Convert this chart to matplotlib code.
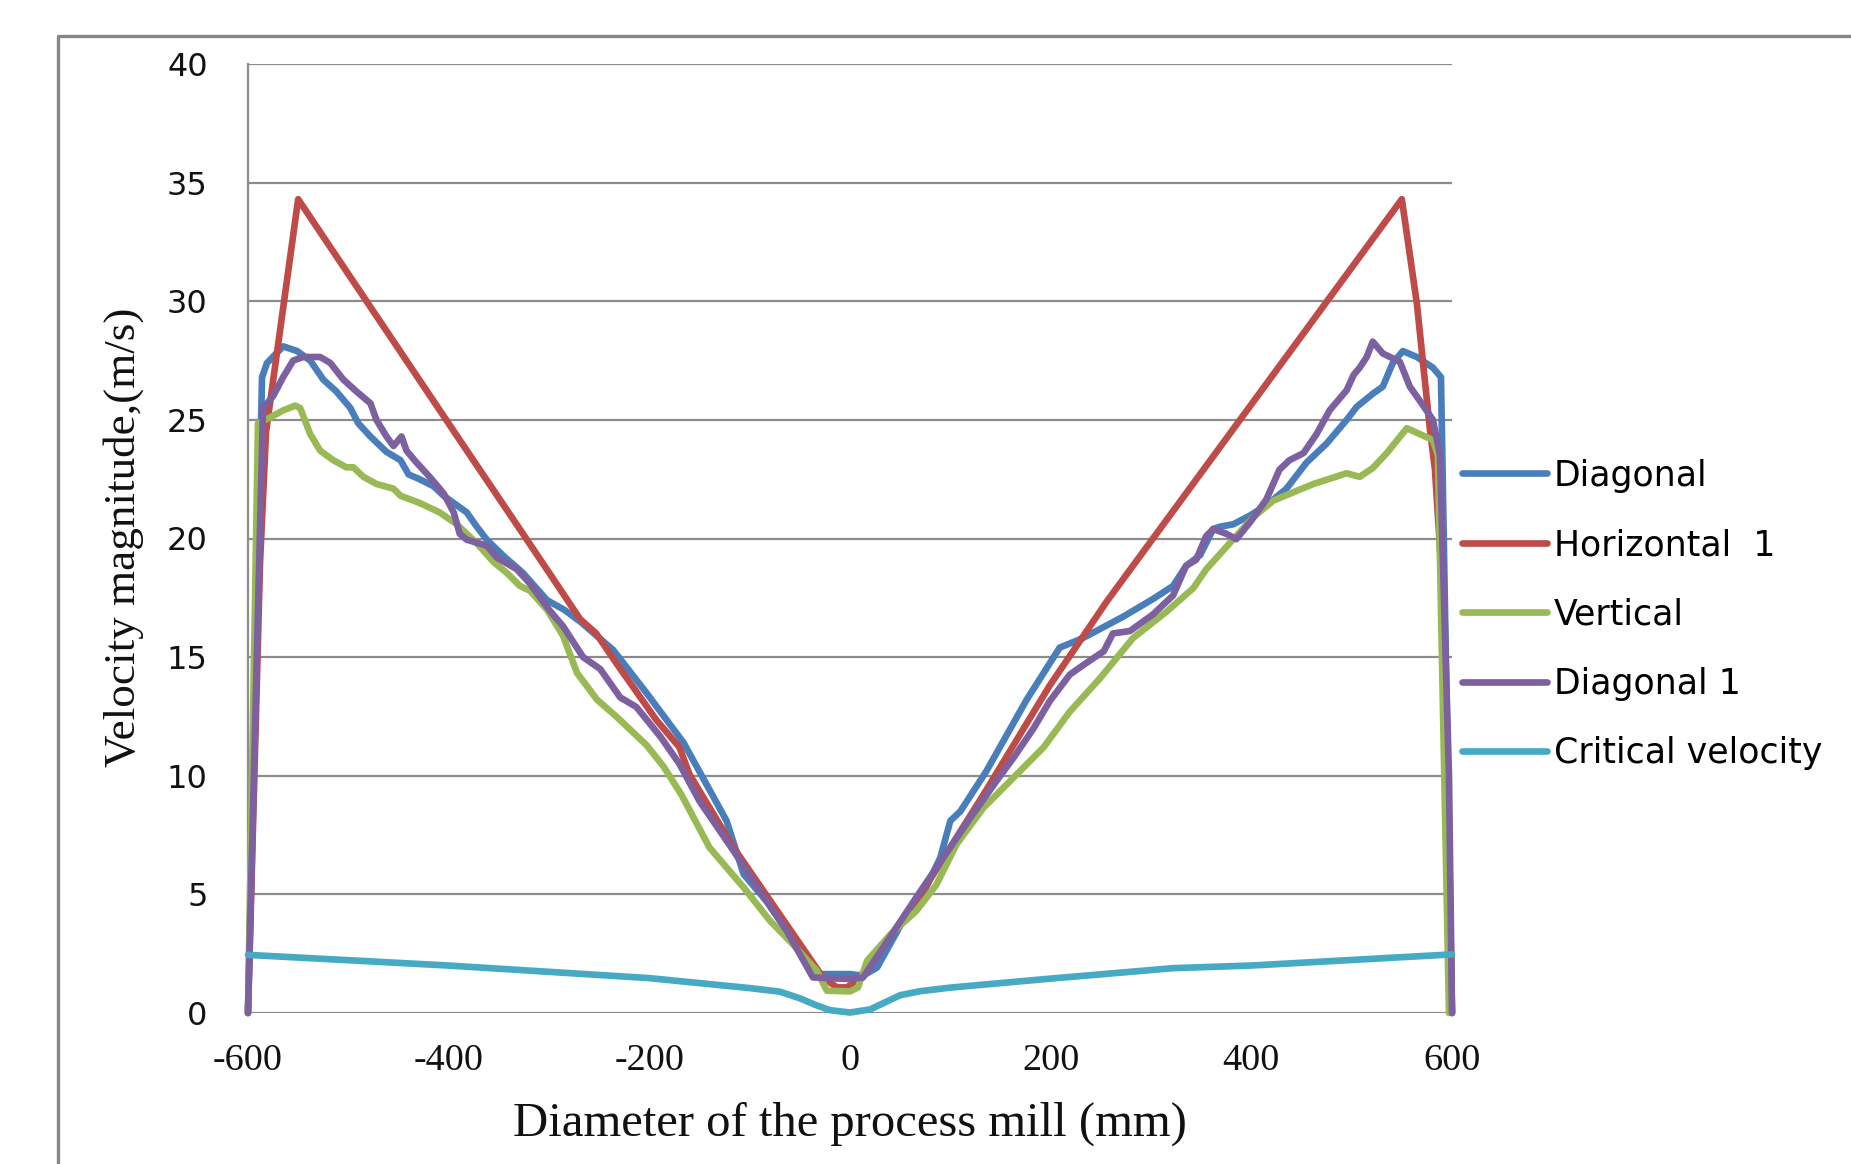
import matplotlib
matplotlib.use('Agg')
import matplotlib.pyplot as plt
from matplotlib.lines import Line2D

# --- data ---
diag_x = [-600, -586, -581, -565, -551, -538, -525, -512, -498, -490, -478, -462, -448, -440, -429,
          -415, -405, -395, -382, -372, -362, -345, -326, -302, -285, -269, -236, -203, -166, -123,
          -106, -83, -60, -30, 0, 13, 27, 53, 76, 90, 100, 110, 136, 176, 209, 232, 272, 302, 322,
          335, 349, 362, 369, 382, 398, 415, 435, 455, 475, 495, 505, 521, 531, 541, 551, 565, 581,
          589, 600]
diag_y = [0, 26.8, 27.4, 28.1, 27.9, 27.5, 26.7, 26.2, 25.5, 24.85, 24.3, 23.65, 23.3, 22.7, 22.5,
          22.2, 21.8, 21.5, 21.1, 20.5, 19.95, 19.25, 18.55, 17.4, 17.0, 16.5, 15.3, 13.5, 11.4, 8.1,
          5.85, 4.7, 3.3, 1.64, 1.64, 1.57, 1.92, 3.9, 5.3, 6.55, 8.1, 8.5, 10.2, 13.2, 15.4, 15.8, 16.7,
          17.45, 18.0, 18.85, 19.3, 20.4, 20.5, 20.6, 20.95, 21.4, 22.1, 23.2, 24.0, 25.0, 25.55, 26.1,
          26.4, 27.4, 27.9, 27.65, 27.2, 26.8, 0]

horiz_x = [-600, -588, -582, -550, -485, -385, -326, -299, -269, -253, -233, -193, -170, -160,
           -116, -66, -27, -13, -3, 7, 66, 133, 199, 256, 550, 565, 578, 583, 592, 600]
horiz_y = [0, 19, 24.5, 34.3, 30.2, 23.9, 20.2, 18.5, 16.6, 16.0, 14.75, 12.35, 11.2, 10.06,
           6.97, 3.9, 1.5, 1.08, 1.08, 1.36, 4.7, 9.2, 13.8, 17.35, 34.3, 29.9, 24.6, 22.9, 17, 0]

vert_x = [-600, -590, -578, -565, -553, -548, -538, -528, -515, -502, -495, -485, -472, -455, -448,
          -429, -409, -392, -372, -355, -342, -329, -319, -302, -286, -272, -252, -233, -203, -186,
          -168, -140, -106, -80, -57, -33, -23, 0, 8, 17, 40, 66, 86, 106, 133, 166, 193, 219, 249,
          282, 315, 342, 355, 382, 402, 422, 462, 495, 508, 521, 535, 555, 568, 581, 586, 597]
vert_y = [0, 24.85, 25.1, 25.4, 25.6, 25.5, 24.4, 23.7, 23.3, 23.0, 23.0, 22.6, 22.3, 22.1, 21.8,
          21.5, 21.1, 20.6, 19.8, 19.0, 18.55, 18.0, 17.8, 17.0, 15.9, 14.33, 13.2, 12.5, 11.3, 10.4,
          9.2, 6.97, 5.29, 3.9, 2.9, 1.78, 0.94, 0.91, 1.08, 2.2, 3.3, 4.3, 5.4, 7.1, 8.65, 10.05, 11.2,
          12.7, 14.1, 15.8, 16.9, 17.9, 18.7, 19.97, 20.9, 21.6, 22.3, 22.75, 22.6, 22.97, 23.6, 24.65,
          24.4, 24.15, 23.5, 0]

diag1_x = [-600, -585, -575, -565, -555, -545, -528, -518, -505, -492, -478, -472, -462, -455, -447,
           -442, -432, -419, -405, -395, -389, -382, -362, -352, -332, -319, -300, -286, -266, -249,
           -229, -213, -189, -170, -150, -116, -90, -63, -37, 0, 13, 33, 66, 93, 120, 146, 163, 183,
           199, 219, 233, 253, 262, 279, 302, 322, 335, 345, 355, 362, 375, 385, 399, 415, 428, 438,
           452, 465, 478, 495, 502, 508, 515, 521, 531, 548, 558, 568, 581, 588, 597, 600]
diag1_y = [0, 25.5, 26.0, 26.8, 27.5, 27.65, 27.65, 27.4, 26.7, 26.2, 25.7, 25.0, 24.3, 23.9, 24.3,
           23.7, 23.2, 22.6, 21.9, 21.1, 20.2, 19.95, 19.7, 19.2, 18.7, 18.1, 17.0, 16.3, 15.0, 14.5,
           13.3, 12.9, 11.65, 10.5, 8.93, 6.83, 5.15, 3.46, 1.5, 1.43, 1.5, 2.76, 4.87, 6.55, 8.23,
           9.78, 10.76, 12.0, 13.14, 14.26, 14.68, 15.25, 16.0, 16.1, 16.8, 17.6, 18.85, 19.1, 20.1,
           20.4, 20.2, 19.97, 20.7, 21.65, 22.9, 23.3, 23.6, 24.4, 25.4, 26.25, 26.9, 27.2, 27.65, 28.3,
           27.8, 27.45, 26.4, 25.8, 25.0, 23.5, 10, 0]

crit_x = [-600, -400, -200, -100, -70, -50, -35, -20, 0, 20, 35, 50, 70, 100, 200, 322, 400, 600]
crit_y = [2.45, 2.0, 1.47, 1.05, 0.9, 0.62, 0.35, 0.12, 0.02, 0.15, 0.45, 0.75, 0.92, 1.07, 1.45,
          1.89, 2.0, 2.47]

series = [
    ('Diagonal', diag_x, diag_y, '#4A7EBB'),
    ('Horizontal  1', horiz_x, horiz_y, '#BE4B48'),
    ('Vertical', vert_x, vert_y, '#98B954'),
    ('Diagonal 1', diag1_x, diag1_y, '#7D60A0'),
    ('Critical velocity', crit_x, crit_y, '#46AAC5'),
]

x_ticks = [-600, -400, -200, 0, 200, 400, 600]
y_ticks = [0, 5, 10, 15, 20, 25, 30, 35, 40]

W, H = 1851, 1164
fig = plt.figure(figsize=(W / 100, H / 100), dpi=100)
ax = fig.add_axes([248 / W, 1 - 1013 / H, 1204 / W, 949 / H])

grey = '#8c8c8c'
for name, xs, ys, col in series:
    ax.plot(xs, ys, color=col, lw=4.8, label=name, solid_joinstyle='round',
            solid_capstyle='round', clip_on=False, zorder=3)

ax.set_xlim(-600, 600)
ax.set_ylim(0, 40)
ax.set_xticks(x_ticks)
ax.set_yticks(y_ticks)
ax.set_xticklabels([str(v) for v in x_ticks], family='Liberation Serif', fontsize=27.5)
ax.set_yticklabels([str(v) for v in y_ticks], family='DejaVu Sans', fontsize=23)
ax.tick_params(axis='x', length=0, pad=22, colors='#111111')
ax.tick_params(axis='y', length=0, pad=29, colors='#111111')

ax.yaxis.grid(True, color=grey, lw=1.6)
ax.set_axisbelow(True)
for s in ['top', 'right', 'bottom']:
    ax.spines[s].set_visible(False)
ax.spines['left'].set_color(grey)
ax.spines['left'].set_linewidth(1.6)

# axis titles
fig.text(850 / W, 1 - 1124 / H, 'Diameter of the process mill (mm)', family='Liberation Serif',
         fontsize=35, ha='center', va='center', color='#111111')
fig.text(124 / W, 1 - 537 / H, 'Velocity magnitude,(m/s)', family='Liberation Serif',
         fontsize=32.5, ha='center', va='center', rotation=90, color='#111111')

leg = ax.legend(loc='center left', bbox_to_anchor=(1.008, 0.42), frameon=False,
                prop={'family': 'DejaVu Sans', 'size': 25}, handlelength=2.45, handletextpad=0.2,
                labelspacing=1.02, borderpad=0, borderaxespad=0)
for line in leg.get_lines():
    line.set_linewidth(4.8)

# outer chart frame
fig.add_artist(Line2D([58 / W, 58 / W, 1.0], [0, 1 - 36 / H, 1 - 36 / H],
                      transform=fig.transFigure, color='#888888', lw=2.4))

fig.savefig('out.png', dpi=100)
